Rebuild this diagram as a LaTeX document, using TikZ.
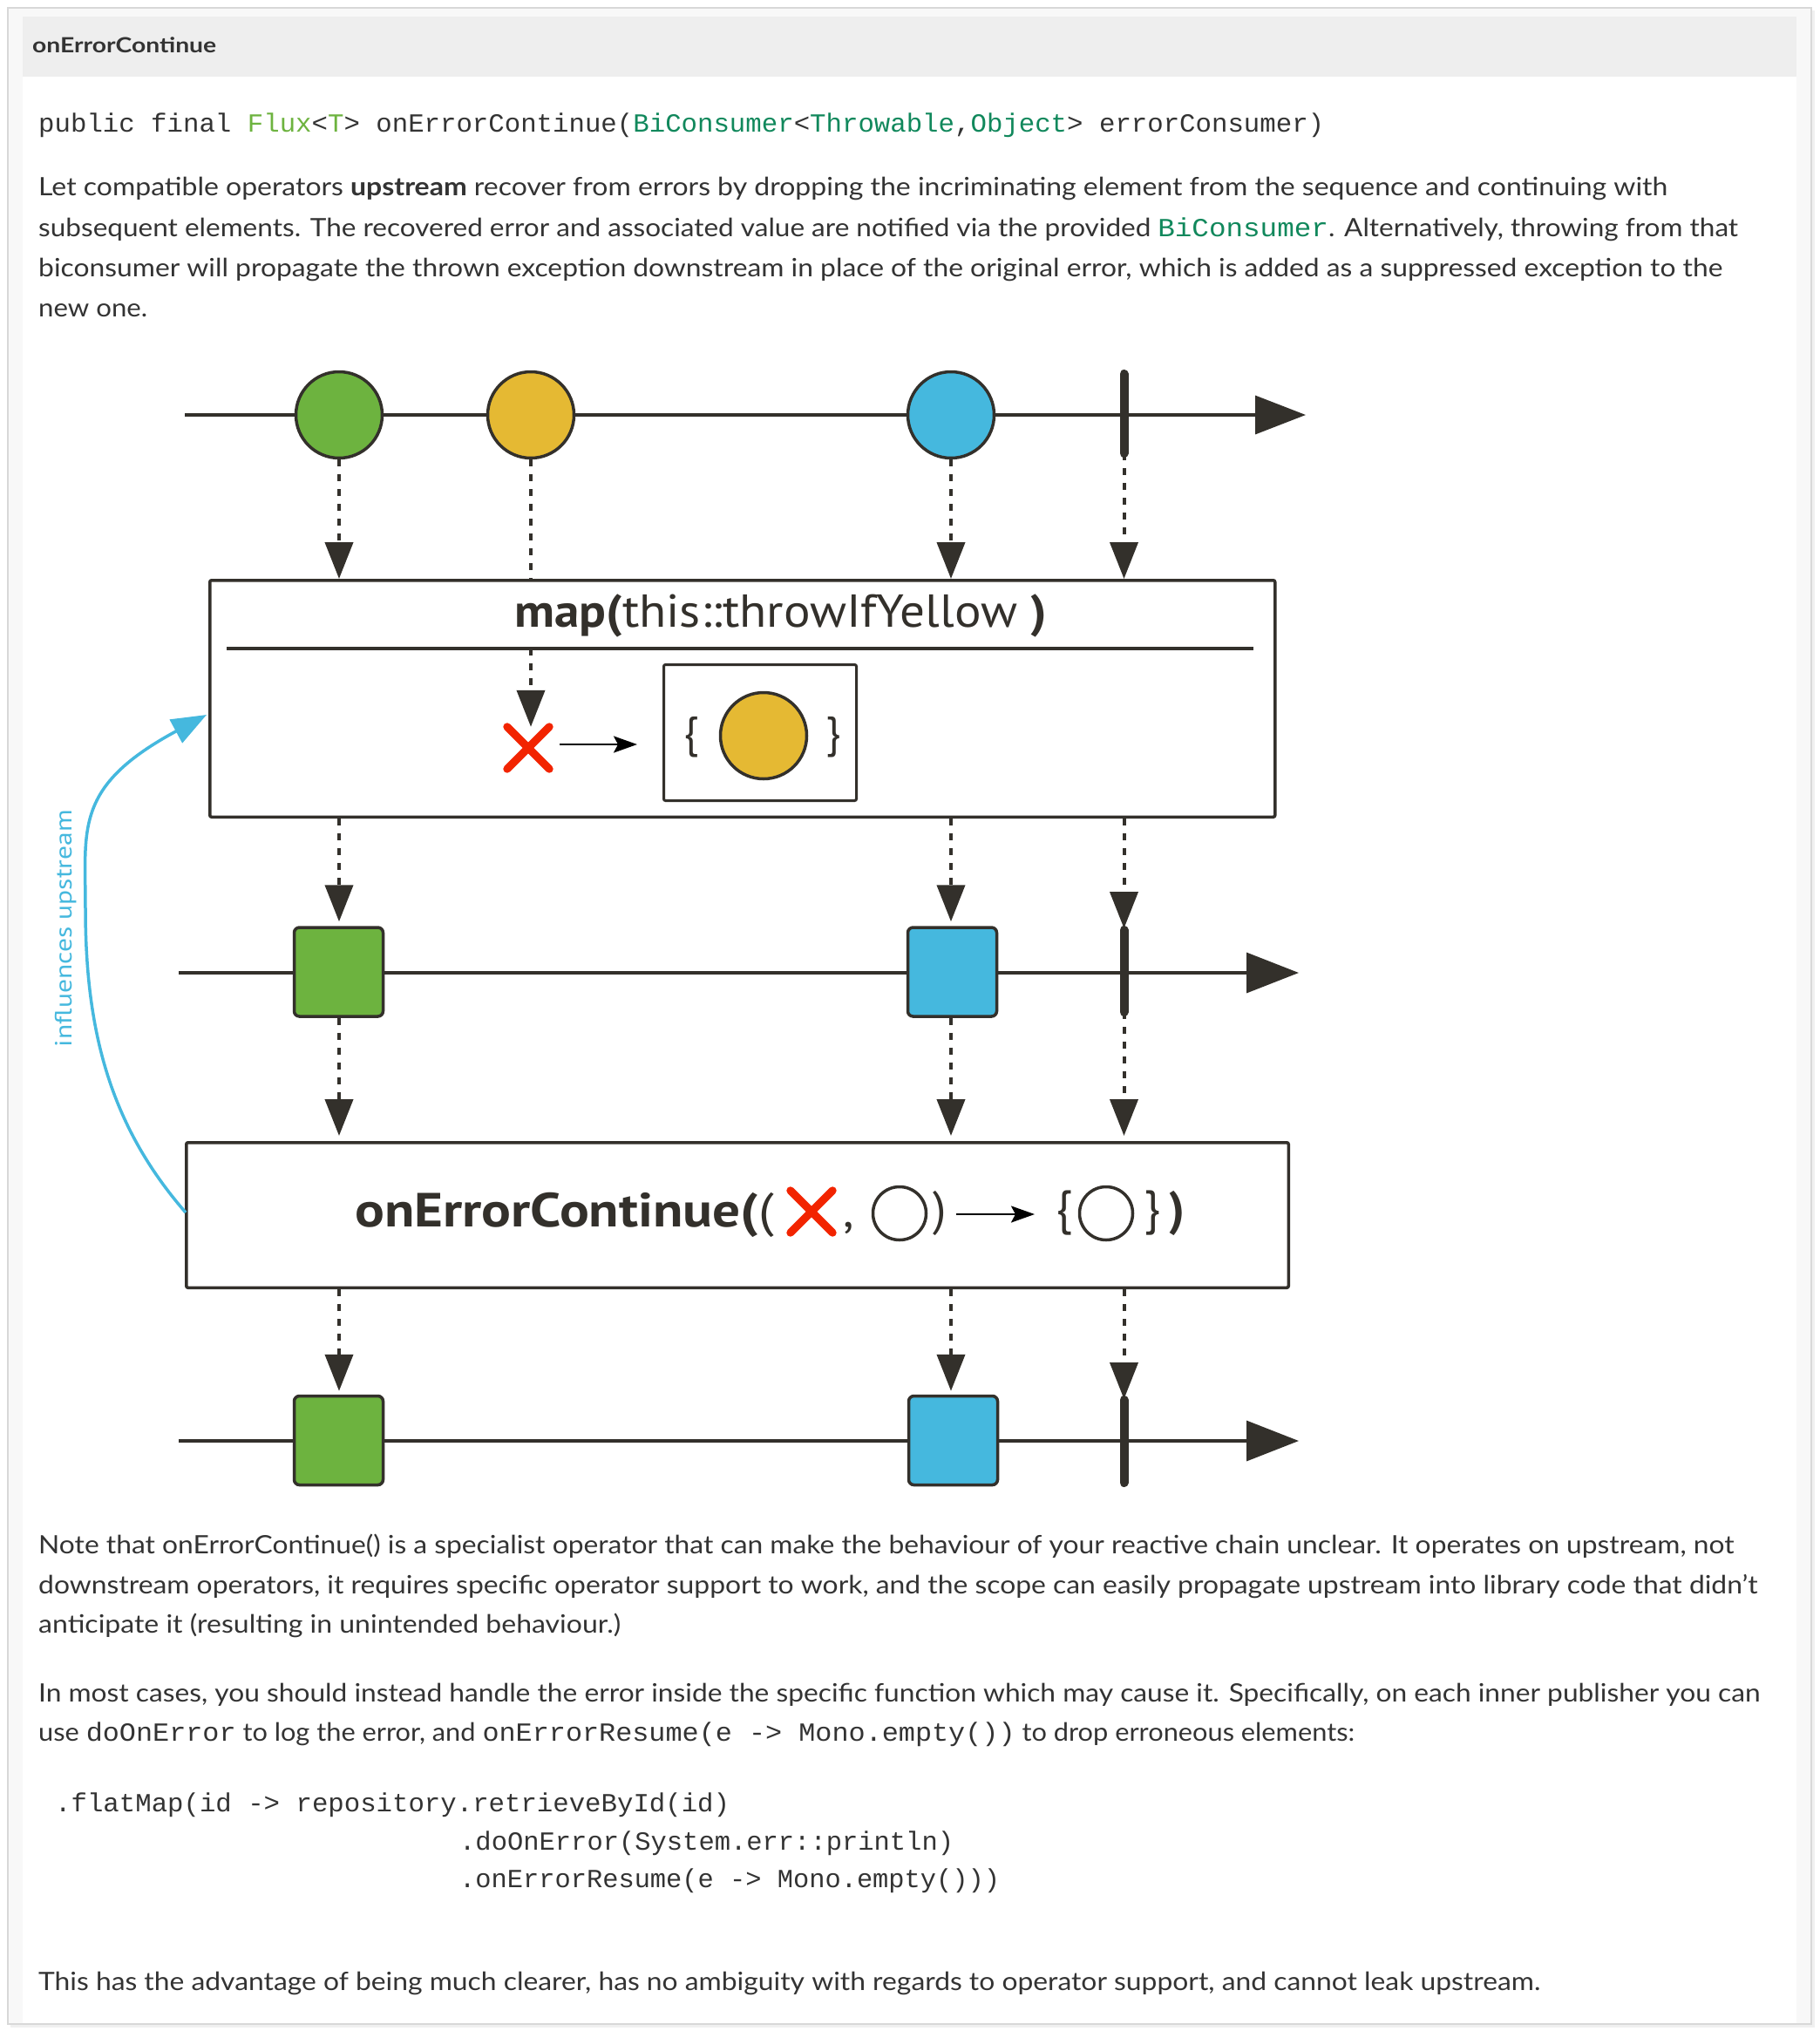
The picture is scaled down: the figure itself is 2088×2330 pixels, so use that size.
\documentclass[tikz,border=0pt]{standalone}
\usepackage{fontspec}
\usepackage{graphicx}
\setmainfont{Lato}
\setmonofont{Liberation Mono}
\newfontfamily\diag{PT Sans}
\usetikzlibrary{arrows.meta}
\definecolor{txt}{HTML}{333333}
\definecolor{dk}{HTML}{33302B}
\definecolor{cgreen}{HTML}{6DB33F}
\definecolor{cyellow}{HTML}{E5B933}
\definecolor{cblue}{HTML}{45B8DE}
\definecolor{cred}{HTML}{F22400}
\definecolor{fluxg}{HTML}{6DB33F}
\definecolor{teal}{HTML}{11885C}
\definecolor{hdr}{HTML}{EEEEEE}
\definecolor{pad}{HTML}{F8F8F8}
\definecolor{frame}{HTML}{D8D8D8}
\newcommand\fitx[2]{\setbox0=\hbox{#2}\pgfmathsetmacro\fitfactor{#1pt/\the\wd0}\scalebox{\fitfactor}[1]{\box0}}
\newcommand\bodyfont{\fontsize{29pt}{29pt}\selectfont}
\newcommand\codefont{\ttfamily\fontsize{30pt}{30pt}\selectfont}
\newcommand\tc[1]{\textcolor{teal}{#1}}
\newcommand\fg[1]{\textcolor{fluxg}{#1}}
\begin{document}
\begin{tikzpicture}[x=1pt,y=-1pt,
  body/.style={anchor=base west, inner sep=0, text=txt, font=\bodyfont},
  code/.style={anchor=base west, inner sep=0, text=txt, font=\codefont},
  ln/.style={draw=dk, line width=3.5pt},
  axis/.style={draw=dk, line width=3.5pt, -{Triangle[length=58pt,width=44pt]}},
  dshn/.style={draw=dk, line width=4pt, dash pattern=on 8pt off 9pt},
  dsh/.style={dshn, -{Triangle[length=42pt,width=32pt]}},
  marble/.style={circle, draw=dk, line width=3.5pt, minimum size=99pt, inner sep=0},
  sq/.style={draw=dk, line width=3.5pt, rounded corners=6pt, minimum size=102pt, inner sep=0},
  bar/.style={draw=dk, line width=10pt, line cap=round},
  opbox/.style={draw=dk, line width=3.5pt, rounded corners=2pt, inner sep=0, anchor=north west},
  redx/.style={draw=cred, line width=9pt, line cap=round},
  xmark/.style={minimum size=48pt, inner sep=0},
  smallarr/.style={draw=black, line width=2.5pt, -{Stealth[length=27pt,width=19pt,inset=5pt]}},
  ring/.style={circle, draw=dk, line width=3.5pt, minimum size=61pt, inner sep=0},
  dtext/.style={inner sep=0, text=dk, font=\diag\fontsize{55pt}{55pt}\selectfont},
]
\useasboundingbox (0,0) rectangle (2088,2330);
% frame
\fill[black!6] (12,12) rectangle (2082,2326);
\draw[draw=frame, fill=pad, line width=1.5pt] (9,9) rectangle (2078,2322);
\fill[white] (26,19) rectangle (2061,2321);
\fill[hdr] (26,19) rectangle (2061,88);

% texts
\node[anchor=base west, inner sep=0, text=txt, font=\fontsize{24pt}{24pt}\selectfont\bfseries] (hd) at (37,60) {\fitx{211}{onErrorContinue}};
\node[code] (sig) at (44,151) {\fitx{1475}{public final \fg{Flux}<\fg{T}> onErrorContinue(\tc{BiConsumer}<\tc{Throwable},\tc{Object}> errorConsumer)}};
\node[body] (p1a) at (44,224) {\fitx{1869}{Let compatible operators \textbf{upstream} recover from errors by dropping the incriminating element from the sequence and continuing with}};
\node[body] (p1b) at (44,271) {\fitx{1950}{subsequent elements. The recovered error and associated value are notified via the provided {\codefont\tc{BiConsumer}}. Alternatively, throwing from that}};
\node[body] (p1c) at (44,317) {\fitx{1932}{biconsumer will propagate the thrown exception downstream in place of the original error, which is added as a suppressed exception to the}};
\node[body] (p1d) at (44,363) {\fitx{125}{new one.}};

\node[body] (p2a) at (44,1782) {\fitx{1945}{Note that onErrorContinue() is a specialist operator that can make the behaviour of your reactive chain unclear. It operates on upstream, not}};
\node[body] (p2b) at (44,1828) {\fitx{1972}{downstream operators, it requires specific operator support to work, and the scope can easily propagate upstream into library code that didn't}};
\node[body] (p2c) at (44,1873) {\fitx{668}{anticipate it (resulting in unintended behaviour.)}};
\node[body] (p3a) at (44,1952) {\fitx{1975}{In most cases, you should instead handle the error inside the specific function which may cause it. Specifically, on each inner publisher you can}};
\node[body] (p3b) at (44,1997) {\fitx{1510}{use {\codefont doOnError} to log the error, and {\codefont onErrorResume(e -> Mono.empty())} to drop erroneous elements:}};
\node[code] (k1) at (63,2078) {\fitx{774}{.flatMap(id -> repository.retrieveById(id)}};
\node[code] (k2) at (527,2122) {\fitx{567}{.doOnError(System.err::println)}};
\node[code] (k3) at (527,2165) {\fitx{620}{.onErrorResume(e -> Mono.empty()))}};
\node[body] (p4) at (44,2283) {\fitx{1723}{This has the advantage of being much clearer, has no ambiguity with regards to operator support, and cannot leak upstream.}};

% ---------- diagram ----------
% boxes
\node[opbox, minimum width=1222pt, minimum height=271.5pt] (map) at (239,664) {};
\node[opbox, minimum width=1264.5pt, minimum height=166.5pt] (oe) at (212,1309) {};
\coordinate (sepL) at (260,744);
\coordinate (sepR) at (1438,744);
\draw[ln] (sepL) -- (sepR);

% row 1
\coordinate (r1s) at (212,476);
\coordinate (r1e) at (1498,476);
\draw[axis] (r1s) -- (r1e);
\node[marble, fill=cgreen] (c1) at (389,476) {};
\node[marble, fill=cyellow] (c2) at (609,476) {};
\node[marble, fill=cblue] (c3) at (1091,476) {};
\coordinate (b1t) at (1289.5,429);
\coordinate (b1b) at (1289.5,520);
\draw[bar] (b1t) -- (b1b);

\draw[dsh] (c1.south) -- (c1.south |- map.north);
\draw[dshn] (c2.south) -- (c2.south |- map.north);
\draw[dsh] (c3.south) -- (c3.south |- map.north);
\draw[dsh] (b1b) -- (b1b |- map.north);

% map contents
\node[anchor=base west, inner sep=0, text=dk, font=\diag\fontsize{53pt}{53pt}\selectfont] (ttl) at (590,719) {\fitx{611}{\textbf{map(}this::throwIfYellow \textbf{)}}};
\node[xmark] (x1) at (606,858) {};
\draw[redx] (x1.north west) -- (x1.south east);
\draw[redx] (x1.north east) -- (x1.south west);
\draw[dsh] (c2.south |- sepL) -- (c2.south |- x1.north);
\coordinate (a1s) at (642,854);
\coordinate (a1e) at (731,854);
\draw[smallarr] (a1s) -- (a1e);
\node[opbox, line width=3pt, minimum width=221pt, minimum height=156pt] (ib) at (760,761) {};
\node[marble, fill=cyellow] (c4) at (876,844) {};
\node[dtext, font=\diag\fontsize{50pt}{50pt}\selectfont] (lb1) at (793,846) {\{};
\node[dtext, font=\diag\fontsize{50pt}{50pt}\selectfont] (rb1) at (956,846) {\}};

% row 2
\coordinate (r2s) at (205,1116);
\coordinate (r2e) at (1490,1116);
\draw[axis, -{Triangle[length=60pt,width=46pt]}] (r2s) -- (r2e);
\node[sq, fill=cgreen] (s1) at (388.5,1115) {};
\node[sq, fill=cblue] (s2) at (1092.5,1115) {};
\coordinate (b2t) at (1289.5,1067);
\coordinate (b2b) at (1289.5,1161);
\draw[bar] (b2t) -- (b2b);

\draw[dsh, shorten >=5pt] (map.south -| c1) -- (s1.north -| c1);
\draw[dsh, shorten >=5pt] (map.south -| c3) -- (s2.north -| c3);
\draw[dsh, shorten >=2pt] (map.south -| b2t) -- (b2t);

\draw[dsh, shorten >=6pt] (s1.south -| c1) -- (oe.north -| c1);
\draw[dsh, shorten >=6pt] (s2.south -| c3) -- (oe.north -| c3);
\draw[dsh, shorten >=6pt] (b2b) -- (oe.north -| b2b);

% onErrorContinue contents
\node[dtext, anchor=base west] (oet) at (407,1407) {\fitx{481}{\textbf{onErrorContinue(}(}};
\node[xmark] (x2) at (931,1390) {};
\draw[redx] (x2.north west) -- (x2.south east);
\draw[redx] (x2.north east) -- (x2.south west);
\node[dtext, anchor=base] (cm) at (974,1407) {,};
\node[ring] (o1) at (1032,1392) {};
\node[dtext] (rp1) at (1078,1392) {)};
\coordinate (a2s) at (1097,1393);
\coordinate (a2e) at (1187,1393);
\draw[smallarr] (a2s) -- (a2e);
\node[dtext] (lb2) at (1221,1392) {\{};
\node[ring] (o2) at (1269,1392) {};
\node[dtext] (rb2) at (1322,1392) {\}};
\node[dtext, font=\diag\fontsize{55pt}{55pt}\selectfont\bfseries] (rp2) at (1350,1392) {)};

% row 3
\coordinate (r3s) at (205,1653);
\coordinate (r3e) at (1490,1653);
\draw[axis, -{Triangle[length=60pt,width=46pt]}] (r3s) -- (r3e);
\node[sq, fill=cgreen] (s3) at (388.5,1652.5) {};
\node[sq, fill=cblue] (s4) at (1093.5,1652.5) {};
\coordinate (b3t) at (1289.5,1606);
\coordinate (b3b) at (1289.5,1701);
\draw[bar] (b3t) -- (b3b);

\draw[dsh, shorten >=4pt] (oe.south -| c1) -- (s3.north -| c1);
\draw[dsh, shorten >=4pt] (oe.south -| c3) -- (s4.north -| c3);
\draw[dsh, shorten >=1pt] (oe.south -| b3t) -- (b3t);

% influences upstream
\coordinate (cv0) at (213,1391);
\coordinate (cvm) at (98,1042);
\coordinate (cv1) at (237,820);
\draw[draw=cblue, line width=3.5pt, -{Triangle[length=40pt,width=30pt]}]
  (cv0) .. controls (125,1290) and (98,1180) .. (cvm)
        .. controls (98,950) and (85,902) .. (cv1);
\node[anchor=base, inner sep=0, text=cblue, rotate=90, font=\diag\fontsize{27pt}{27pt}\selectfont] (inf) at (82,1065) {\fitx{272}{influences upstream}};
\end{tikzpicture}
\end{document}
